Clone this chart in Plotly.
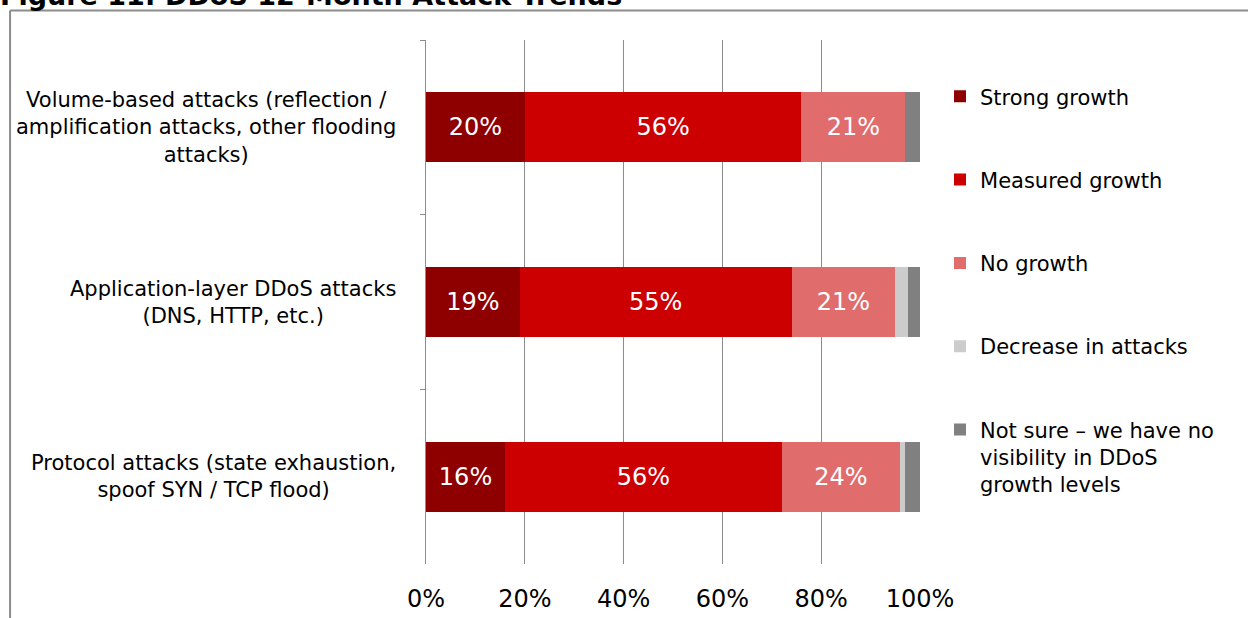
import plotly.graph_objects as go

# Survey categories, top to bottom
categories = [
    "Volume-based attacks (reflection /<br>amplification attacks, other flooding<br>attacks)",
    "Application-layer DDoS attacks<br>(DNS, HTTP, etc.)",
    "Protocol attacks (state exhaustion,<br>spoof SYN / TCP flood)",
]
cat_keys = ["volume", "application", "protocol"]

# Share of respondents (%) per response
series_names = [
    "Strong growth",
    "Measured growth",
    "No growth",
    "Decrease in attacks",
    "Not sure – we have no<br>visibility in DDoS<br>growth levels",
]
strong_growth = [20, 19, 16]
measured_growth = [56, 55, 56]
no_growth = [21, 21, 24]
decrease = [0, 2.5, 1]
not_sure = [3, 2.5, 3]
series_values = [strong_growth, measured_growth, no_growth, decrease, not_sure]
show_labels = [True, True, True, False, False]

x_ticks = [0, 20, 40, 60, 80, 100]
x_tick_labels = ["0%", "20%", "40%", "60%", "80%", "100%"]

colors = ["#8e0000", "#cc0000", "#e06c6c", "#cccccc", "#808080"]
FONT = "DejaVu Sans, Verdana, sans-serif"

fig = go.Figure()
for i, (name, vals) in enumerate(zip(series_names, series_values)):
    fig.add_trace(go.Bar(
        y=cat_keys,
        x=vals,
        name=name,
        orientation="h",
        marker=dict(color=colors[i], line=dict(width=0)),
        width=0.4,
        text=[f"{v:g}%" for v in vals] if show_labels[i] else None,
        textposition="inside" if show_labels[i] else "none",
        insidetextanchor="middle",
        textfont=dict(color="white", size=24, family=FONT),
        legendgroup=f"g{i}",
        hoverinfo="x+name",
    ))

# Category labels, centred multi-line text left of the axis
for key, label in zip(cat_keys, categories):
    fig.add_annotation(
        x=-0.056, xref="paper", xanchor="right",
        y=key, yref="y", yanchor="middle",
        text=label, showarrow=False, align="center",
        font=dict(size=21, color="#000", family=FONT),
    )

# Figure title (clipped by the top of the page)
fig.add_annotation(
    x=-0.866, xref="paper", xanchor="left",
    y=1.0519, yref="paper", yanchor="bottom",
    text="<b>Figure 11: DDoS 12-Month Attack Trends</b>",
    showarrow=False, font=dict(size=27, color="#000", family=FONT),
)

# Frame around the chart
fig.add_shape(type="line", xref="paper", yref="paper",
              x0=-0.842, x1=1.7, y0=1.0563, y1=1.0563,
              line=dict(color="#8c8c8c", width=2))
fig.add_shape(type="line", xref="paper", yref="paper",
              x0=-0.842, x1=-0.842, y0=1.0563, y1=-0.2,
              line=dict(color="#8c8c8c", width=2))

fig.update_layout(
    width=1248, height=618,
    margin=dict(l=426, r=328, t=40, b=54, autoexpand=False),
    barmode="stack",
    plot_bgcolor="white", paper_bgcolor="white",
    font=dict(family=FONT, color="#000"),
    showlegend=True,
    legend=dict(
        x=1.0405, xanchor="left", y=0.931, yanchor="top",
        traceorder="grouped", tracegroupgap=53,
        valign="top",
        font=dict(size=21, family=FONT, color="#000"),
        itemclick=False, itemdoubleclick=False,
    ),
    xaxis=dict(
        range=[0, 100], tickvals=x_ticks, ticktext=x_tick_labels,
        showgrid=True, gridcolor="#8c8c8c", gridwidth=1,
        zeroline=False, showline=False, ticks="",
        ticklabelstandoff=18, automargin=False,
        tickfont=dict(size=24, family=FONT, color="#000"),
        fixedrange=True,
    ),
    yaxis=dict(
        categoryorder="array", categoryarray=cat_keys,
        autorange="reversed", showticklabels=False, automargin=False,
        showline=True, linecolor="#8c8c8c", linewidth=1,
        ticks="outside", tickson="boundaries", ticklen=5, tickcolor="#8c8c8c",
        showgrid=False, fixedrange=True,
    ),
)

fig.write_html("out.html")
